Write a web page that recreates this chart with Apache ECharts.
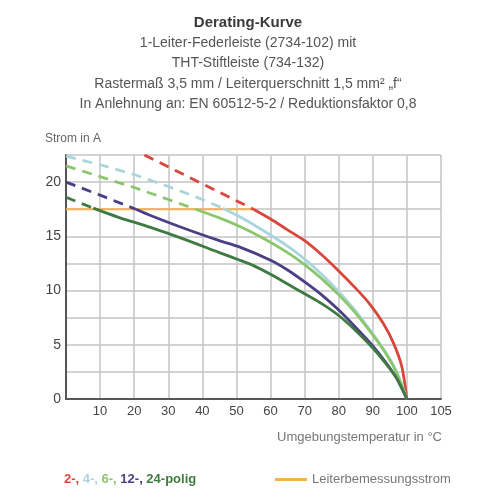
<!DOCTYPE html>
<html>
<head>
<meta charset="utf-8">
<script src="https://cdn.jsdelivr.net/npm/echarts@6/dist/echarts.min.js"></script>
<style>
  html, body { margin: 0; padding: 0; background: #fff; }
  #chart { width: 500px; height: 500px; }
</style>
</head>
<body>
<div id="chart"></div>
<script>
// Derating-Kurve, Werte
// Punkte als [Temperatur °C, Strom A]
const orangeRated = [[0, 17.5], [55, 17.5]]

const pol2Dashed = [[23, 22.5], [55, 17.5]]
const pol2Solid = [[55, 17.5], [60, 16.6], [65, 15.6], [70, 14.6], [75, 13.3], [80, 11.8], [85, 10.2], [89, 8.8], [93, 7.0], [96, 5.2], [98.5, 3.0], [100, 0]]

const pol4Dashed = [[0, 22.4], [10, 21.6], [20, 20.7], [30, 19.6], [40, 18.4], [46, 17.6]]
const pol4Solid = [[46, 17.6], [51, 16.8], [57, 15.7], [65, 14.1], [70, 12.9], [75, 11.5], [80, 9.9], [85, 8.1], [90, 6.0], [94, 4.2], [97, 2.5], [100, 0]]

const pol6Dashed = [[0, 21.5], [10, 20.5], [20, 19.5], [30, 18.4], [38, 17.5]]
const pol6Solid = [[38, 17.5], [45, 16.7], [51, 15.9], [58, 14.8], [65, 13.5], [70, 12.4], [75, 11.1], [80, 9.6], [85, 7.9], [90, 5.9], [94, 4.1], [97, 2.4], [100, 0]]

const pol12Dashed = [[0, 20.0], [10, 18.8], [20.5, 17.5]]
const pol12Solid = [[20.5, 17.5], [25, 16.9], [35, 15.7], [45, 14.6], [51, 14.0], [60, 12.8], [65, 11.9], [70, 10.8], [75, 9.6], [80, 8.2], [85, 6.6], [90, 4.9], [94, 3.3], [97, 1.9], [100, 0]]

const pol24Dashed = [[0, 18.6], [8, 17.6]]
const pol24Solid = [[8, 17.6], [15, 16.8], [25, 15.8], [35, 14.7], [45, 13.5], [51, 12.8], [55, 12.3], [60, 11.5], [65, 10.6], [70, 9.7], [75, 8.8], [80, 7.7], [85, 6.3], [90, 4.7], [94, 3.2], [97, 1.9], [100, 0]]

// in der Vorlage ist das letzte Feld (100..105) so breit wie ein 10er-Feld
const xTickLabels = [10, 20, 30, 40, 50, 60, 70, 80, 90, 100]
const xEndTick = 110
const xEndLabel = '105'

const titleLines = [
  '1-Leiter-Federleiste (2734-102) mit',
  'THT-Stiftleiste (734-132)',
  'Rastermaß 3,5 mm / Leiterquerschnitt 1,5 mm² „f“',
  'In Anlehnung an: EN 60512-5-2 / Reduktionsfaktor 0,8',
]

const colors = {
  p2: '#d9473c',
  p4: '#a9d6dd',
  p6: '#8cc66c',
  p12: '#4b3f86',
  p24: '#3f7a40',
  rated: '#f3b24e',
}

const FONT = 'Liberation Sans, Arial, sans-serif'
const dash = [10, 7]

const chart = echarts.init(document.getElementById('chart'))

const curve = (name, data, color, dashed) => ({
  name,
  type: 'line',
  data,
  showSymbol: false,
  smooth: dashed ? false : 0.25,
  lineStyle: { color, width: 2.8, type: dashed ? dash : 'solid' },
  itemStyle: { color },
  z: 3,
})

const xLabelStyle = {
  fontFamily: FONT,
  fontSize: 13,
  color: '#444',
  margin: 6,
}

const option = {
  backgroundColor: '#fff',
  animation: false,
  title: {
    text: 'Derating-Kurve',
    subtext: titleLines.join('\n'),
    left: 243,
    top: 10,
    textAlign: 'center',
    itemGap: 3,
    textStyle: { fontFamily: FONT, fontSize: 15, fontWeight: 'bold', color: '#3a3a3a' },
    subtextStyle: { fontFamily: FONT, fontSize: 14, color: '#555', lineHeight: 20.3 },
  },
  legend: {
    data: ['Leiterbemessungsstrom'],
    left: 270,
    top: 468,
    icon: 'rect',
    itemWidth: 32,
    itemHeight: 3,
    textStyle: { fontFamily: FONT, fontSize: 13, color: '#777' },
  },
  grid: { left: 66, right: 59, top: 155, bottom: 101 },
  xAxis: [
    {
      type: 'value',
      min: 0,
      max: xEndTick,
      interval: 10,
      axisLine: { lineStyle: { color: '#555', width: 2 } },
      axisTick: { show: false },
      axisLabel: { ...xLabelStyle, customValues: xTickLabels },
      splitLine: { show: true, lineStyle: { color: '#c4c4c4', width: 1.5 } },
    },
    {
      // nur für die Endbeschriftung
      type: 'value',
      position: 'bottom',
      min: 0,
      max: xEndTick,
      interval: 10,
      axisLine: { show: false },
      axisTick: { show: false },
      splitLine: { show: false },
      axisLabel: {
        ...xLabelStyle,
        customValues: [xEndTick],
        showMaxLabel: true,
        formatter: () => xEndLabel,
      },
    },
  ],
  yAxis: {
    type: 'value',
    min: 0,
    max: 22.5,
    interval: 2.5,
    name: 'Strom in A',
    nameLocation: 'end',
    nameGap: 10,
    nameTextStyle: { fontFamily: FONT, fontSize: 12, color: '#666', align: 'left', padding: [0, 0, 0, -21] },
    axisLine: { show: true, lineStyle: { color: '#555', width: 2 } },
    axisTick: { show: false },
    axisLabel: {
      fontFamily: FONT,
      fontSize: 14,
      color: '#444',
      margin: 5,
      formatter: (v) => (v % 5 === 0 ? v : ''),
    },
    splitLine: { show: true, lineStyle: { color: '#c4c4c4', width: 1.5 } },
  },
  graphic: [
    {
      type: 'text',
      right: 58,
      top: 431,
      style: {
        text: 'Umgebungstemperatur in °C',
        fontFamily: FONT,
        fontSize: 13,
        fill: '#777',
      },
    },
    {
      type: 'text',
      left: 64,
      top: 473,
      style: {
        text: '{a|2-,} {b|4-,} {c|6-,} {d|12-,} {e|24-polig}',
        fontFamily: FONT,
        fontSize: 13,
        rich: {
          a: { fill: colors.p2, fontSize: 13, fontFamily: FONT, fontWeight: 'bold' },
          b: { fill: colors.p4, fontSize: 13, fontFamily: FONT, fontWeight: 'bold' },
          c: { fill: colors.p6, fontSize: 13, fontFamily: FONT, fontWeight: 'bold' },
          d: { fill: colors.p12, fontSize: 13, fontFamily: FONT, fontWeight: 'bold' },
          e: { fill: colors.p24, fontSize: 13, fontFamily: FONT, fontWeight: 'bold' },
        },
      },
    },
  ],
  series: [
    {
      name: 'Leiterbemessungsstrom',
      type: 'line',
      data: orangeRated,
      showSymbol: false,
      lineStyle: { color: colors.rated, width: 2 },
      itemStyle: { color: colors.rated },
      z: 2,
    },
    curve('2-polig', pol2Dashed, colors.p2, true),
    curve('2-polig', pol2Solid, colors.p2, false),
    curve('4-polig', pol4Dashed, colors.p4, true),
    curve('4-polig', pol4Solid, colors.p4, false),
    curve('6-polig', pol6Dashed, colors.p6, true),
    curve('6-polig', pol6Solid, colors.p6, false),
    curve('12-polig', pol12Dashed, colors.p12, true),
    curve('12-polig', pol12Solid, colors.p12, false),
    curve('24-polig', pol24Dashed, colors.p24, true),
    curve('24-polig', pol24Solid, colors.p24, false),
  ],
}

chart.setOption(option)
</script>
</body>
</html>
